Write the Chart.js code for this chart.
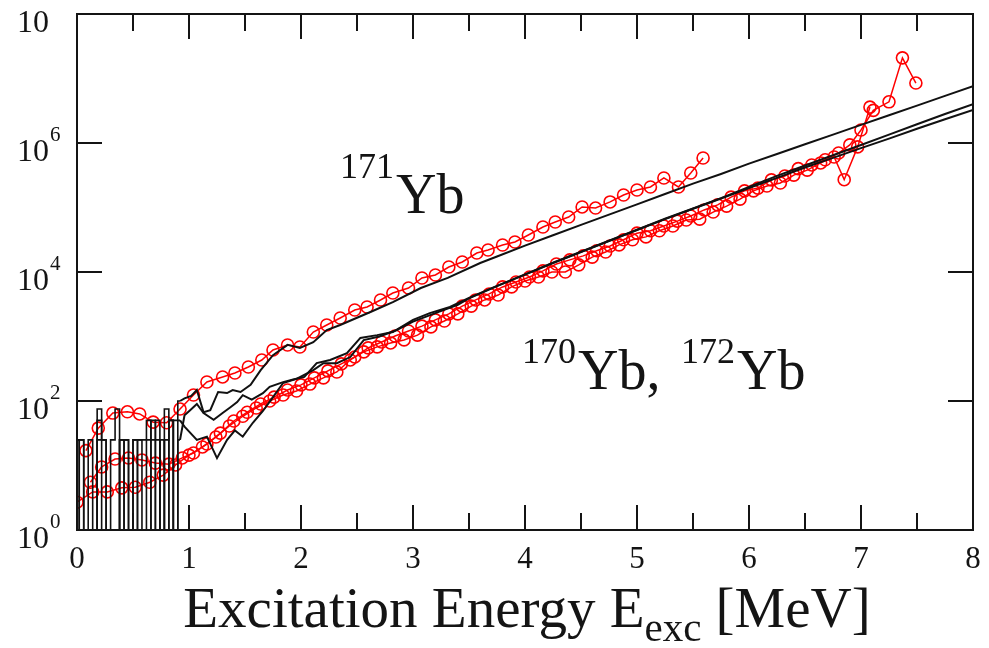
<!DOCTYPE html>
<html>
<head>
<meta charset="utf-8">
<title>Level density of 170,171,172Yb</title>
<script src="https://cdn.jsdelivr.net/npm/chart.js@4.4.0/dist/chart.umd.min.js"></script>
<style>
  html, body { margin: 0; padding: 0; background: #fff; }
  #wrap { width: 989px; height: 648px; }
</style>
</head>
<body>
<div id="wrap"><canvas id="graphCanvas" width="989" height="648"></canvas></div>
<script>
// ---- measured level densities (red circles), rho in MeV^-1 ----
const exp171E = [0.08, 0.19, 0.32, 0.45, 0.56, 0.68, 0.80, 0.92, 1.04, 1.16,
  1.30, 1.41, 1.53, 1.65, 1.75, 1.88, 1.99, 2.11, 2.23, 2.35,
  2.48, 2.59, 2.71, 2.82, 2.96, 3.08, 3.20, 3.32, 3.44, 3.57,
  3.67, 3.80, 3.91, 4.03, 4.16, 4.27, 4.39, 4.51, 4.63, 4.76,
  4.88, 5.00, 5.12, 5.24, 5.37, 5.48, 5.59];
const exp171Rho = [17, 38, 65, 68, 63, 47, 46, 75, 124, 197,
  236, 272, 337, 432, 618, 738, 687, 1175, 1507, 1936,
  2576, 2866, 3680, 4725, 5650, 8070, 8980, 11960, 14300, 19700,
  21900, 26200, 29200, 37500, 49900, 59600, 71200, 102000, 98000, 122000,
  156000, 187000, 208000, 287000, 208000, 343000, 585000];

const exp170E = [0.00, 0.14, 0.27, 0.40, 0.52, 0.65, 0.77, 0.88,
  1.00, 1.12, 1.24, 1.36, 1.48, 1.60, 1.72, 1.84, 1.96, 2.08,
  2.20, 2.32, 2.44, 2.56, 2.68, 2.80, 2.92, 3.04, 3.16, 3.28,
  3.40, 3.52, 3.64, 3.76, 3.88, 4.00, 4.12, 4.24, 4.36, 4.48,
  4.60, 4.72, 4.84, 4.96, 5.08, 5.20, 5.32, 5.44, 5.56, 5.68,
  5.80, 5.92, 6.04, 6.16, 6.28, 6.40, 6.52, 6.64, 6.76,
  6.85, 6.97, 7.08];
const exp170Rho = [2.7, 3.9, 3.9, 4.5, 4.6, 5.5, 7.1, 10.2,
  14.5, 19.4, 27.6, 41, 58, 78, 100, 124, 143, 183,
  228, 282, 433, 577, 690, 795, 885, 1050, 1410, 1740,
  2240, 2960, 3690, 4390, 5870, 7260, 8360, 10000, 10000, 12900,
  17000, 20400, 26300, 31600, 35000, 43600, 51700, 64000, 66000, 85000,
  105000, 135000, 181000, 215000, 240000, 318000, 380000, 491000, 607000,
  270000, 870000, 3600000];

const exp172E = [0.12, 0.22, 0.34, 0.46, 0.58, 0.70, 0.82, 0.94,
  1.04, 1.16, 1.28, 1.40, 1.52, 1.64, 1.76, 1.88, 2.00, 2.12,
  2.24, 2.36, 2.48, 2.60, 2.72, 2.84, 2.96, 3.08, 3.20, 3.32,
  3.44, 3.56, 3.68, 3.80, 3.92, 4.04, 4.16, 4.28, 4.40, 4.52,
  4.64, 4.76, 4.88, 5.00, 5.12, 5.24, 5.36, 5.48, 5.60, 5.72,
  5.84, 5.96, 6.08, 6.20, 6.32, 6.44, 6.56, 6.68, 6.80,
  6.90, 7.00, 7.11, 7.25, 7.37, 7.49];
const exp172Rho = [5.5, 9.5, 12.6, 13.1, 12.2, 10.9, 10.5, 13.1,
  15.6, 21.5, 31.8, 49, 67, 90, 115, 148, 178, 228,
  293, 376, 482, 666, 821, 1018, 1217, 1450, 1810, 2240,
  2960, 3690, 4570, 5870, 7000, 8360, 10400, 13300, 15400, 17800,
  21400, 25300, 31600, 40000, 43600, 51700, 61500, 73800, 91700, 110000,
  145000, 181000, 200000, 268000, 308000, 400000, 457000, 550000, 700000,
  935000, 1590000, 3200000, 4350000, 20900000, 8500000];

// ---- known discrete levels, binned (black histograms below ~1 MeV) ----
const levelE = [0.00, 0.04, 0.08, 0.12, 0.16, 0.20, 0.24, 0.28, 0.32, 0.36, 0.40, 0.44,
  0.48, 0.52, 0.56, 0.60, 0.64, 0.68, 0.72, 0.76, 0.80, 0.84, 0.88, 0.92];
const level170 = [25, 25, 0, 0, 0, 75, 25, 0, 0, 0, 25, 25, 0, 25, 0, 0, 25, 50, 0, 25, 0, 50, 0, 25];
const level171 = [25, 0, 0, 25, 0, 50, 0, 0, 25, 75, 0, 25, 0, 0, 25, 25, 50, 0, 50, 0, 75, 0, 50, 100];
const level172 = [0, 25, 0, 0, 0, 25, 25, 0, 0, 0, 25, 0, 0, 25, 25, 0, 0, 25, 25, 0, 25, 50, 0, 50];

// ---- levels + Fermi gas continuation (black lines) ----
const cont171E = [0.96, 1.02, 1.07, 1.13, 1.19, 1.26, 1.34, 1.39, 1.46, 1.55,
  1.64, 1.75, 1.88, 1.99, 2.11, 2.23, 2.35, 2.50, 2.62, 2.82,
  3.07, 3.31, 3.60, 3.75, 4.00, 4.25, 4.50, 4.75, 5.00, 5.25,
  5.50, 5.75, 6.00, 6.25, 6.50, 6.75, 7.00, 7.25, 7.50, 7.75, 8.00];
const cont171Rho = [110, 120, 148, 67, 72, 138, 133, 148, 138, 178,
  300, 513, 741, 665, 816, 1260, 1510, 1950, 2400, 3400,
  5650, 8100, 13800, 17400, 25700, 37200, 53700, 77600, 112000, 162000,
  234000, 331000, 479000, 676000, 955000, 1350000, 1910000, 2690000, 3800000, 5370000, 7590000];

const cont170E = [0.96, 1.01, 1.07, 1.13, 1.22, 1.30, 1.37, 1.43, 1.48, 1.56,
  1.66, 1.72, 1.84, 1.93, 2.03, 2.14, 2.26, 2.41, 2.53, 2.68,
  2.82, 3.00, 3.15, 3.33, 3.50, 3.75, 4.00, 4.25, 4.50, 4.75,
  5.00, 5.25, 5.50, 5.75, 6.00, 6.25, 6.50, 6.75, 7.00, 7.25, 7.50, 7.75, 8.00];
const cont170Rho = [60, 72, 90, 65, 51, 65, 80, 96, 123, 105,
  132, 166, 196, 215, 236, 387, 433, 553, 950, 1050,
  1170, 1810, 2300, 2870, 3980, 6100, 9200, 13900, 20600, 30500,
  45200, 66800, 96500, 140000, 209000, 309000, 447000, 646000, 933000, 1350000, 1950000, 2820000, 3980000];

const cont172E = [0.96, 1.07, 1.16, 1.25, 1.34, 1.41, 1.48, 1.57, 1.66, 1.75,
  1.84, 1.96, 2.11, 2.20, 2.32, 2.44, 2.56, 2.70, 2.85, 3.00,
  3.20, 3.40, 3.50, 3.75, 4.00, 4.25, 4.50, 4.75, 5.00, 5.25,
  5.50, 5.75, 6.00, 6.25, 6.50, 6.75, 7.00, 7.25, 7.50, 7.75, 8.00];
const cont172Rho = [40, 25, 28, 13, 25, 35, 28, 46, 70, 115,
  190, 220, 302, 385, 385, 480, 880, 1000, 1250, 1700,
  2300, 3100, 3900, 6030, 9120, 13800, 20400, 30200, 44700, 66100,
  95500, 138000, 200000, 288000, 417000, 589000, 832000, 1170000, 1660000, 2340000, 3240000];

// ---- axes ----
const xTicks = [0, 1, 2, 3, 4, 5, 6, 7, 8];
const xMinorTicks = [0.5, 1.5, 2.5, 3.5, 4.5, 5.5, 6.5, 7.5];
const yTicks = [1, 1e2, 1e4, 1e6, 1e8];
const yTickExps = ['0', '2', '4', '6', ''];

const SERIF = "'Liberation Serif', 'DejaVu Serif', serif";
const RED = 'rgb(255, 0, 0)';
const INK = '#141414';
// empty bins can't sit on a log axis: park them below the frame so the drop gets drawn and clipped
const EMPTY_BIN = 0.01;

function toPoints(xs, ys) {
  return xs.map((e, i) => ({ x: e, y: ys[i] }));
}

function levelPoints(levels) {
  return levelE.map((e, i) => ({ x: e, y: levels[i] > 0 ? levels[i] : EMPTY_BIN }));
}

function contPoints(levels, xs, ys) {
  const last = levels[levels.length - 1];
  return [{ x: levelE[levelE.length - 1], y: last > 0 ? last : EMPTY_BIN }].concat(toPoints(xs, ys));
}

function blackLine(data, stepped) {
  return {
    data: data,
    borderColor: '#111',
    borderWidth: stepped ? 1.6 : 2,
    pointRadius: 0,
    stepped: stepped ? 'middle' : false,
    tension: 0,
    fill: false
  };
}

function redSeries(data) {
  return {
    data: data,
    borderColor: RED,
    borderWidth: 1.5,
    pointRadius: 6,
    pointBorderWidth: 1.6,
    pointBorderColor: RED,
    pointBackgroundColor: 'rgba(0,0,0,0)',
    tension: 0,
    fill: false
  };
}

function line(ctx, x1, y1, x2, y2) {
  ctx.beginPath();
  ctx.moveTo(x1, y1);
  ctx.lineTo(x2, y2);
  ctx.stroke();
}

// frame, inward ticks, tick labels, axis title and isotope labels
const axisDecor = {
  id: 'axisDecor',
  afterDraw(chart) {
    const { ctx, chartArea: a, scales: { x, y } } = chart;
    ctx.save();
    ctx.strokeStyle = INK;
    ctx.lineWidth = 2;
    ctx.strokeRect(a.left, a.top, a.right - a.left, a.bottom - a.top);

    xTicks.forEach(v => {
      const px = x.getPixelForValue(v);
      line(ctx, px, a.bottom, px, a.bottom - 25);
      line(ctx, px, a.top, px, a.top + 25);
    });
    xMinorTicks.forEach(v => {
      const px = x.getPixelForValue(v);
      line(ctx, px, a.bottom, px, a.bottom - 17);
      line(ctx, px, a.top, px, a.top + 17);
    });
    yTicks.forEach(v => {
      const py = y.getPixelForValue(v);
      line(ctx, a.left, py, a.left + 25, py);
      line(ctx, a.right, py, a.right - 25, py);
    });

    ctx.fillStyle = INK;
    ctx.textBaseline = 'alphabetic';

    // x tick labels
    ctx.font = '31px ' + SERIF;
    ctx.textAlign = 'center';
    xTicks.forEach(v => {
      ctx.fillText(String(v), x.getPixelForValue(v), a.bottom + 38);
    });

    // y tick labels as 10^n
    ctx.textAlign = 'left';
    yTicks.forEach((v, i) => {
      const py = y.getPixelForValue(v);
      ctx.font = '32px ' + SERIF;
      ctx.fillText('10', 17, py + 18);
      const w = ctx.measureText('10').width;
      ctx.font = '21px ' + SERIF;
      ctx.fillText(yTickExps[i], 17 + w + 1, py - 2);
    });

    // axis title with subscript
    const parts = [
      { t: 'Excitation Energy E', size: 57, dy: 0 },
      { t: 'exc', size: 41, dy: 14 },
      { t: ' [MeV]', size: 57, dy: 0 }
    ];
    let total = 0;
    parts.forEach(p => {
      ctx.font = p.size + 'px ' + SERIF;
      p.w = ctx.measureText(p.t).width;
      total += p.w;
    });
    let tx = (a.left + a.right) / 2 + 2 - total / 2;
    parts.forEach(p => {
      ctx.font = p.size + 'px ' + SERIF;
      ctx.fillText(p.t, tx, 627 + p.dy);
      tx += p.w;
    });

    // isotope labels
    const iso = (mass, name, xLeft, supBase, mainBase) => {
      ctx.font = '36px ' + SERIF;
      ctx.fillText(mass, xLeft, supBase);
      const w = ctx.measureText(mass).width;
      ctx.font = '56px ' + SERIF;
      ctx.fillText(name, xLeft + w + 2, mainBase);
    };
    iso('171', 'Yb', 340, 178, 213);
    iso('170', 'Yb,', 522, 363, 389);
    iso('172', 'Yb', 681, 363, 389);

    ctx.restore();
  }
};

new Chart(document.getElementById('graphCanvas').getContext('2d'), {
  type: 'line',
  data: {
    datasets: [
      blackLine(levelPoints(level170), true),
      blackLine(levelPoints(level171), true),
      blackLine(levelPoints(level172), true),
      blackLine(contPoints(level170, cont170E, cont170Rho), false),
      blackLine(contPoints(level171, cont171E, cont171Rho), false),
      blackLine(contPoints(level172, cont172E, cont172Rho), false),
      redSeries(toPoints(exp171E, exp171Rho)),
      redSeries(toPoints(exp170E, exp170Rho)),
      redSeries(toPoints(exp172E, exp172Rho))
    ]
  },
  options: {
    responsive: false,
    animation: false,
    devicePixelRatio: 1,
    layout: { padding: { left: 77, right: 16, top: 14, bottom: 118 } },
    plugins: {
      legend: { display: false },
      tooltip: { enabled: false }
    },
    scales: {
      x: { type: 'linear', min: 0, max: 8, display: false },
      y: { type: 'logarithmic', min: 1, max: 1e8, display: false }
    }
  },
  plugins: [axisDecor]
});
</script>
</body>
</html>
